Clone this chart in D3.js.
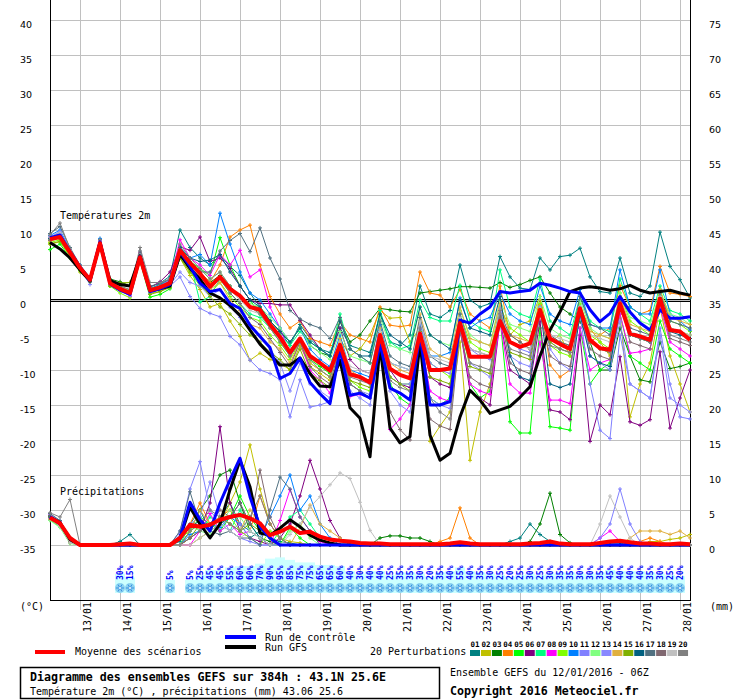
<!DOCTYPE html>
<html>
<head>
<meta charset="utf-8">
<script src="https://cdn.jsdelivr.net/npm/d3@7"></script>
<style>
  body { margin: 0; background: #fff; }
  svg { display: block; }
</style>
</head>
<body>
<div class="diagram"></div>
<script>
// time steps: 12/01/2016 06Z + 0..384h every 6h
const stepHours = d3.range(0, 385, 6);
const dayHours = d3.range(18, 385, 24);
const dayLabels = ["13/01","14/01","15/01","16/01","17/01","18/01","19/01","20/01",
                   "21/01","22/01","23/01","24/01","25/01","26/01","27/01","28/01"];
const tempTicks = [40,35,30,25,20,15,10,5,0,-5,-10,-15,-20,-25,-30,-35];
const precipTicks = [75,70,65,60,55,50,45,40,35,30,25,20,15,10,5,0];
const memberNames = ["01","02","03","04","05","06","07","08","09","10",
                     "11","12","13","14","15","16","17","18","19","20"];
const memberColors = ["#008080","#c0c000","#008000","#ff8000","#00ff00","#800080","#00ff80","#ff00ff","#80ff00","#0080ff",
                      "#8080ff","#80ff80","#8888ff","#e0b040","#80b000","#006080","#507080","#806870","#c0c0c0","#808080"];

// snow probability (%) per step, null = none
const snowPct = [null,null,null,null,null,null,null,30,15,null,null,null,5,
  null,5,25,45,45,55,60,60,70,90,95,85,
  75,75,65,65,60,40,30,40,40,25,35,35,
  30,20,35,40,55,40,35,30,25,20,25,30,
  25,30,35,35,30,30,35,45,40,40,40,35,
  30,25,20,null];

// 2m temperature (°C)
const meanT = [8.7,9.0,6.8,4.6,2.9,8.1,2.4,1.6,1.0,6.1,1.4,1.8,2.4,
  7.1,5.3,3.8,1.9,3.3,1.6,0.6,-1.0,-1.4,-3.5,-5.3,-7.5,
  -5.5,-8.0,-9.0,-10.1,-6.4,-10.6,-11.0,-11.8,-5.0,-9.8,-10.7,-11.2,
  -4.8,-10.0,-10.0,-9.8,-3.3,-8.1,-8.1,-8.1,-3.0,-6.0,-6.7,-6.2,
  -1.4,-5.5,-6.3,-7.0,-1.2,-5.7,-6.9,-7.1,-0.5,-4.8,-5.2,-5.7,
  0.2,-4.3,-4.5,-5.7];
const ctrlT = [8.9,9.3,6.9,4.7,2.8,8.3,2.3,1.4,0.8,6.2,1.2,1.6,2.2,
  6.9,4.8,2.4,1.2,1.5,-0.5,-1.2,-3.6,-5.2,-6.8,-11.2,-10.5,
  -8.3,-11.8,-13.4,-14.8,-7.1,-13.6,-13.3,-14.0,-6.2,-12.6,-13.3,-14.3,
  -5.0,-15.0,-15.0,-14.5,-2.9,-3.3,-2.0,-1.0,1.2,1.0,1.2,1.4,
  2.4,2.1,1.7,1.2,1.0,-1.4,-3.1,-1.9,0.5,-1.7,-3.3,-4.3,
  -1.4,-2.6,-2.6,-2.4];
const gfsT = [8.2,7.3,6.0,4.3,2.7,8.2,2.8,2.2,2.0,6.3,1.3,1.6,2.0,
  6.5,4.5,3.0,1.0,0.3,-0.8,-2.2,-4.3,-6.3,-7.8,-9.3,-9.3,
  -8.3,-10.5,-12.3,-12.4,-8.6,-15.4,-16.9,-22.4,-6.5,-18.3,-20.4,-19.5,
  -6.0,-19.3,-22.9,-21.9,-16.7,-12.9,-14.3,-16.2,-15.7,-15.2,-13.9,-12.4,
  -8.0,-4.3,-1.7,1.2,1.7,1.9,1.7,1.4,1.6,2.1,1.4,1.0,
  1.2,1.4,1.0,0.7];

const p01T = [9.0,9.6,7.2,4.9,3.0,8.6,2.6,1.9,1.3,6.6,1.9,2.4,3.4,
  10.0,7.5,6.0,5.0,6.4,4.8,3.5,1.0,-1.0,-3.0,-4.5,-6.5,
  -3.5,-5.5,-7.0,-7.5,-4.0,-6.5,-7.0,-7.5,-2.0,-6.0,-6.5,-5.0,
  2.0,-2.0,-2.5,-1.5,5.0,0.0,-1.0,-0.5,6.2,3.3,1.7,1.5,
  6.0,4.3,6.2,6.4,7.4,3.3,1.2,1.0,6.0,1.0,0.5,2.0,
  9.7,4.8,2.9,0.3];
const p02T = [8.0,8.3,6.2,4.0,2.6,7.8,2.8,2.4,2.5,5.8,1.0,1.2,2.0,
  6.0,3.5,1.5,-1.0,-0.5,-3.0,-5.2,-8.6,-7.6,-8.5,-9.0,-10.0,
  -6.5,-9.5,-10.5,-11.5,-5.5,-8.0,-7.0,-5.0,-1.5,-2.6,-2.5,-6.0,
  -4.0,-20.2,-18.0,-16.0,-6.0,-22.9,-16.0,-12.0,-3.0,-5.0,-3.5,-3.0,
  0.5,-6.0,-5.0,-8.0,-1.0,-4.0,-6.0,-8.0,-2.0,-16.7,-12.0,-9.0,
  -1.0,-8.0,-12.0,-16.0];
const p03T = [8.5,8.9,6.7,4.5,2.9,8.0,3.0,2.6,2.0,6.0,1.6,2.2,2.6,
  7.5,5.5,4.0,2.5,3.5,2.0,0.5,-1.0,-1.0,-3.0,-4.5,-6.0,
  -4.0,-6.5,-7.5,-8.0,-3.0,-6.0,-5.0,-3.0,-1.2,-1.4,-1.6,-1.7,
  1.0,1.2,1.4,1.6,1.9,1.9,1.8,1.7,2.5,1.8,2.2,2.8,
  3.3,1.0,-1.0,-2.0,-3.1,-6.0,-10.0,-10.0,-4.0,-8.0,-11.4,-11.7,
  -6.0,-9.8,-9.5,-9.0];
const p04T = [8.8,9.2,7.0,4.7,3.0,8.4,2.7,1.8,1.4,6.4,1.5,2.0,2.8,
  7.0,5.0,4.0,2.5,5.0,9.0,10.0,10.7,5.0,0.5,-2.0,-4.0,
  -3.0,-5.5,-6.0,-6.5,-3.1,-5.0,-5.5,-6.0,-1.0,-3.6,-3.8,-3.6,
  4.0,1.0,0.7,-1.0,1.5,-2.0,-3.0,-4.0,2.0,-5.0,-6.0,-7.0,
  0.5,-9.3,-11.0,-10.0,-2.0,-6.0,-5.0,-4.0,2.1,-1.0,-2.0,-1.5,
  4.8,1.0,0.8,0.5];
const p05T = [7.2,8.0,6.0,4.2,2.8,7.8,2.0,1.4,0.8,5.5,0.4,0.8,1.6,
  6.5,5.5,4.5,3.5,8.9,5.0,2.0,0.0,-2.0,-4.0,-6.0,-8.0,
  -6.0,-8.5,-9.5,-10.5,-7.0,-12.0,-13.0,-14.0,-6.0,-12.0,-14.0,-15.0,
  -5.0,-14.0,-15.0,-14.0,-3.5,-12.0,-14.0,-13.0,-2.5,-17.4,-19.0,-19.0,
  -4.0,-18.1,-18.3,-18.6,-4.0,-12.0,-10.0,-9.0,-2.0,-8.0,-9.0,-10.0,
  -3.0,-7.0,-8.0,-9.0];
const p06T = [8.5,9.2,7.0,4.8,3.0,8.3,2.6,1.8,1.2,6.4,1.8,2.6,4.0,
  7.6,7.1,9.0,5.5,6.0,4.5,2.0,0.0,-0.5,-0.5,-0.7,-0.7,
  -2.9,-5.0,-7.0,-8.0,-4.0,-8.5,-10.0,-10.5,-5.5,-10.0,-12.0,-12.5,
  -4.0,-11.0,-12.0,-12.5,-4.0,-13.0,-14.0,-15.0,-3.0,-10.0,-11.0,-12.0,
  -3.0,-15.7,-16.0,-17.1,-5.0,-20.2,-15.0,-16.4,-8.1,-17.4,-17.9,-17.1,
  -7.4,-18.3,-14.0,-10.0];
const p07T = [8.9,9.4,7.1,4.8,3.1,8.3,2.5,1.8,1.3,6.4,1.7,2.1,2.8,
  6.5,5.5,-0.3,0.5,3.0,1.0,-0.5,-2.0,-2.5,-4.0,-5.0,-6.5,
  -4.5,-6.0,-7.0,-8.0,-2.0,-7.0,-8.0,-9.0,-1.5,-6.0,-7.0,-6.5,
  0.0,-2.5,-3.0,-3.0,2.1,-3.0,-4.0,-4.5,4.3,-1.0,-2.0,-2.5,
  3.0,-3.0,-4.0,-5.0,0.5,-3.0,-4.0,-4.5,3.0,-1.0,-2.0,-3.0,
  2.0,-1.5,-2.0,-3.0];
const p08T = [9.0,9.5,7.0,4.5,2.5,8.5,2.2,1.5,0.5,6.8,1.5,2.0,2.8,
  8.6,6.0,5.0,3.5,6.5,5.0,7.1,3.3,4.3,-1.0,-4.0,-8.0,
  -6.0,-10.0,-11.5,-13.3,-7.0,-13.8,-13.5,-14.0,-6.0,-18.5,-17.0,-15.0,
  -5.0,-13.0,-14.0,-14.5,-4.0,-12.0,-13.0,-13.5,-3.0,-12.0,-13.3,-13.3,
  -6.0,-14.3,-14.3,-14.8,-4.0,-10.0,-9.0,-8.5,-2.0,-7.6,-7.4,-7.0,
  -1.0,-6.0,-7.0,-8.0];
const p09T = [8.2,8.6,6.5,4.4,2.7,7.6,2.0,1.0,0.3,5.5,1.0,1.5,2.2,
  6.0,4.0,2.0,1.0,2.5,0.5,-1.0,-2.5,-3.0,-5.0,-6.5,-8.5,
  -6.0,-9.0,-10.0,-11.0,-6.0,-11.5,-12.5,-13.0,-5.0,-11.0,-12.0,-12.0,
  -3.0,-9.0,-10.0,-11.0,-2.0,-6.0,-7.0,-7.5,-1.0,-4.0,-5.0,-6.0,
  -0.5,-6.5,-7.5,-8.0,-0.5,-5.0,-6.0,-7.0,1.0,-3.0,-4.0,-5.0,
  1.5,-3.0,-3.5,-4.5];
const p10T = [9.2,10.0,7.2,5.0,3.2,8.8,2.8,1.8,1.0,6.5,1.6,2.2,3.0,
  7.5,6.0,6.5,5.0,12.4,8.0,4.0,1.0,0.0,-2.0,-4.0,-6.0,
  -4.0,-7.0,-8.5,-9.5,-5.0,-10.0,-10.5,-11.0,-3.5,-9.0,-9.5,-10.0,
  -3.5,-8.0,-8.0,-7.5,0.3,-4.0,-3.0,-2.5,1.0,-2.0,-3.0,-3.5,
  2.0,-2.0,-3.0,-3.5,1.5,-3.5,-4.0,-4.0,4.3,-1.0,-2.0,-2.0,
  4.3,-2.0,-3.0,-4.3];
const p11T = [8.8,9.5,7.0,4.5,2.2,8.0,2.5,1.5,0.8,5.8,1.0,1.5,2.0,
  3.3,0.5,-1.2,-1.9,-2.4,-5.2,-6.4,-8.6,-10.0,-10.5,-11.4,-16.7,
  -11.4,-15.3,-15.0,-14.5,-8.0,-12.0,-13.0,-13.5,-5.0,-11.0,-12.0,-12.0,
  -3.0,-9.0,-10.0,-10.5,-2.0,-7.0,-8.0,-8.5,-1.0,-6.0,-7.0,-7.5,
  -1.0,-7.0,-9.0,-10.0,-2.0,-12.0,-18.6,-19.8,-5.0,-12.0,-13.0,-14.0,
  -4.0,-12.0,-16.7,-17.0];
const p12T = [8.6,9.0,6.8,4.6,3.0,7.9,2.3,1.7,1.2,6.0,1.2,1.7,2.5,
  7.0,5.0,4.5,3.0,4.0,2.0,0.5,-0.5,-1.0,-2.5,-4.0,-6.0,
  -4.0,-6.5,-7.5,-8.5,-4.5,-8.0,-8.5,-9.0,-2.5,-6.5,-7.0,-7.5,
  -1.0,-5.0,-6.0,-6.5,-1.5,-5.0,-6.0,-6.5,0.0,-3.5,-4.0,-4.5,
  0.5,-4.0,-5.0,-5.5,0.0,-4.0,-5.0,-5.5,1.0,-2.5,-3.0,-3.5,
  1.0,-2.0,-2.5,-3.5];
const p13T = [9.0,9.8,7.2,4.6,2.5,8.4,2.4,1.4,0.6,6.2,1.2,1.6,2.2,
  4.0,2.5,2.0,0.5,1.5,-1.0,-2.5,-4.0,-5.0,-7.0,-9.0,-13.0,
  -9.0,-12.0,-13.0,-14.0,-7.0,-13.0,-14.0,-15.0,-7.0,-13.0,-15.0,-16.0,
  -6.0,-14.0,-15.0,-15.5,-4.0,-9.0,-10.0,-11.0,-1.5,-8.0,-9.0,-9.5,
  -1.0,-6.0,-7.0,-7.5,-1.0,-8.0,-9.0,-10.0,-3.0,-12.0,-13.0,-14.0,
  -5.0,-14.0,-15.0,-16.0];
const p14T = [8.4,8.8,6.6,4.4,2.8,7.9,2.6,1.9,1.4,6.2,1.6,2.0,2.6,
  6.8,5.0,3.5,1.5,2.5,0.0,-1.5,-3.5,-4.0,-6.0,-7.0,-9.0,
  -6.0,-9.0,-10.0,-11.0,-5.5,-10.0,-11.0,-11.5,-4.0,-9.0,-10.0,-10.5,
  -2.0,-7.0,-8.0,-8.5,-1.0,-5.5,-6.0,-6.5,-0.5,-5.0,-5.5,-6.0,
  -1.5,-5.5,-6.0,-6.5,-1.5,-4.5,-5.0,-5.5,0.5,-3.5,-4.0,-4.5,
  1.5,-2.5,-3.0,-3.5];
const p15T = [8.0,8.4,6.4,4.3,2.6,7.5,2.0,2.4,2.5,5.8,0.8,1.2,1.8,
  6.0,4.0,2.5,0.5,-1.0,-2.0,-3.5,-5.0,-6.0,-7.5,-8.5,-10.0,
  -7.0,-10.5,-11.5,-12.5,-7.0,-11.5,-12.0,-12.5,-5.5,-11.0,-12.0,-13.0,
  -4.5,-11.0,-11.5,-12.0,-3.5,-9.5,-10.0,-10.5,-2.5,-7.5,-8.0,-8.5,
  -2.0,-6.0,-7.0,-7.5,-1.5,-6.0,-7.0,-7.5,-0.5,-5.0,-5.5,-6.0,
  0.5,-4.0,-4.5,-5.0];
const p16T = [8.8,9.2,6.9,4.7,3.1,8.2,2.5,1.6,1.0,6.1,1.5,1.9,2.7,
  7.5,6.0,5.5,5.7,6.5,4.0,2.0,0.0,-1.0,-3.0,-4.5,-6.0,
  -4.0,-6.0,-7.0,-8.0,-3.0,-7.0,-8.0,-8.0,-2.0,-5.0,-6.0,-7.0,
  -1.0,-5.0,-6.0,-7.0,0.0,-4.0,-4.5,-5.0,0.5,-8.0,-11.0,-11.5,
  -1.0,-12.0,-12.5,-12.0,-2.0,-8.0,-9.0,-9.5,-1.0,-5.0,-5.5,-6.0,
  0.0,-4.5,-5.0,-5.5];
const p17T = [9.5,10.5,7.5,5.0,3.0,8.6,2.5,1.6,1.0,7.0,2.0,2.3,3.0,
  7.0,5.0,4.0,4.0,7.0,8.5,9.5,6.9,10.3,6.0,3.0,-1.5,
  -2.7,-3.5,-4.0,-5.5,-2.5,-7.0,-8.0,-9.0,-3.0,-8.0,-9.0,-9.5,
  -2.5,-8.0,-9.0,-9.5,-2.0,-7.0,-7.5,-8.0,-2.0,-5.0,-6.0,-7.0,
  -1.5,-5.0,-6.0,-6.5,0.5,-3.5,-4.0,-5.0,0.0,-4.0,-4.5,-5.0,
  1.0,-3.0,-3.5,-4.0];
const p18T = [8.6,9.3,7.0,4.8,3.0,8.2,2.6,1.8,1.2,6.3,1.4,1.8,2.5,
  7.2,5.5,3.5,2.0,3.0,1.0,-0.5,-2.5,-3.5,-5.5,-7.5,-9.5,
  -6.0,-9.5,-11.0,-12.0,-6.5,-12.0,-13.0,-14.0,-6.5,-16.0,-18.5,-20.0,
  -5.0,-17.0,-18.0,-18.5,-4.5,-11.0,-12.0,-12.5,-2.0,-9.0,-10.0,-10.5,
  -2.0,-8.0,-9.0,-9.5,-1.5,-7.0,-8.0,-8.5,0.0,-6.0,-6.5,-7.0,
  -0.5,-5.5,-6.0,-6.5];
const p19T = [9.0,9.6,7.1,4.8,3.0,8.4,2.3,1.5,0.9,6.4,1.3,1.7,2.3,
  7.0,5.0,3.5,1.8,3.0,1.5,0.0,-1.5,-2.0,-4.0,-5.5,-7.5,
  -5.5,-8.0,-9.0,-10.0,-6.0,-9.5,-10.0,-10.5,-4.5,-9.0,-9.5,-10.0,
  -3.0,-8.0,-8.5,-9.0,-2.5,-7.0,-7.5,-8.0,-1.5,-6.0,-6.5,-7.0,
  -1.0,-5.0,-5.5,-6.0,-1.0,-5.0,-5.5,-6.0,-0.5,-4.5,-5.0,-5.5,
  0.5,-4.0,-4.5,-5.0];
const p20T = [9.3,11.0,7.3,4.9,3.1,8.6,2.8,2.0,1.5,7.5,2.5,2.5,3.0,
  8.0,6.0,4.5,3.0,4.0,2.0,0.5,-1.0,-2.0,-4.0,-6.0,-8.0,
  -6.0,-8.5,-10.0,-11.0,-6.5,-11.0,-11.5,-12.0,-5.5,-11.5,-12.5,-13.0,
  -4.0,-14.0,-16.0,-17.0,-3.5,-9.0,-9.5,-10.0,-1.5,-7.0,-7.5,-8.0,
  -1.5,-6.5,-7.0,-7.5,-1.5,-6.0,-7.0,-7.5,-1.0,-5.0,-5.5,-6.0,
  0.0,-5.0,-5.5,-6.0];

// precipitation (mm per 6h)
const meanP = [3.9,3.1,1.0,0,0,0,0,0.1,0.2,0,0,0,0,
  1.0,2.9,2.6,2.9,3.6,4.0,4.3,3.8,3.1,1.4,1.9,2.6,
  1.7,1.9,1.2,0.8,0.6,0.5,0.3,0.2,0.2,0.1,0.1,0.1,
  0.1,0.1,0.1,0.2,0.4,0.2,0.1,0.1,0.1,0.1,0.1,0.2,
  0.3,0.5,0.2,0.1,0.1,0.1,0.3,0.5,0.6,0.4,0.2,0.2,
  0.1,0.1,0.2,0.1];
const ctrlP = [4.0,3.0,1.0,0,0,0,0,0,0,0,0,0,0,
  1.0,6.1,3.6,2.0,6.0,9.3,12.4,6.9,2.6,1.0,0,0,
  0,0,0,0,0,0,0,0,0,0,0,0,
  0,0,0,0,0,0,0,0,0,0,0,0,
  0,0,0,0,0,0,0,0,0,0,0,0,
  0,0,0,0];
const gfsP = [4.0,3.2,0.8,0,0,0,0,0,0,0,0,0,0,
  1.0,5.4,3.0,1.0,3.0,7.9,12.1,8.3,1.7,1.4,2.4,3.6,
  2.6,1.4,0.7,0.3,0,0,0,0,0,0,0,0,
  0,0,0,0,0,0,0,0,0,0,0,0,
  0,0,0,0,0,0,0,0,0,0,0,0,
  0,0,0,0];

const p01P = [4.0,3.0,0.5,0,0,0,0,0.5,1.5,0,0,0,0,
  0.5,3.0,5.0,2.0,4.0,6.0,3.0,1.0,2.0,1.0,0.5,0.3,
  0,0,0,0,0,0,0,0,0,0,0,0,
  0,0,0,0,0,0,0,0,0,0.5,1.0,3.0,
  1.5,0.5,0,0,0,0,0,0,0,0,0,0,
  0,0,0,0];
const p02P = [3.8,2.8,0.4,0,0,0,0,0,0,0,0,0,0,
  0,0,1.0,2.0,3.0,6.0,9.0,14.3,8.0,3.0,1.0,0.5,
  0.3,0,0,0,0,0,0,0,0,0,0,0,
  0,0,0,0,0,0,0,0,0,0,0,0,
  0,0,0,0,0,0,0,0,0,0,0,0.5,
  0.5,0.8,1.0,1.5];
const p03P = [4.2,3.2,0.6,0,0,0,0,0,0,0,0,0,0,
  0,2.0,5.0,7.0,10.0,10.7,6.0,2.0,1.0,0.5,0,0,
  0,0,0,0,0,0,0,0,1.0,1.3,1.3,1.0,
  1.0,0.5,0,0,0,0,0,0,0,0,0,0.5,
  3.0,7.4,1.5,0.3,0,0,0,0,0,0,0,0,
  0,0,0,0];
const p04P = [4.0,3.0,0.5,0,0,0,0,0,0,0,0,0,0,
  1.0,3.0,6.0,3.0,4.0,5.0,3.0,2.0,7.0,3.0,1.0,0,
  0,0,0,0,0,0,0,0,0,0,0,0,
  0,0,0.5,1.0,5.3,1.0,0,0,0,0,0,0,
  0,0,0,0,0,0,0,0,0,0,0.5,1.0,
  0.5,0,0,0];
const p05P = [3.6,2.6,0.3,0,0,0,0,0,0,0,0,0,0,
  0,2.0,4.0,3.0,2.0,4.0,7.0,4.0,2.0,1.0,0,2.5,
  1.0,0,0,0,0,0,0,0,0,0,0,0,
  0,0,0,0,0,0,0,0,0,0,0,0,
  0,0,0,0,0,0,0,0,0,0,0,0,
  0,0,0,0];
const p06P = [4.1,3.1,0.6,0,0,0,0,0,0,0,0,0,0,
  0,1.0,2.0,6.0,16.9,6.0,2.0,1.0,0.5,0,1.0,3.0,
  7.0,12.1,8.0,3.5,1.0,0,0,0,0,0,0,0,
  0,0,0,0,0,0,0,0,0,0,0,0,
  0,0,0,0,0,0,0,0,0,0,0,0,
  0,0,0,0];
const p07P = [3.9,2.9,0.4,0,0,0,0,0,0,0,0,0,0,
  0,3.0,2.0,4.0,3.0,2.0,5.0,3.0,1.0,0,2.0,4.0,
  5.0,3.0,1.0,0,0,0,0,0,0,0,0,0,
  0,0,0,0,0,0,0,0,0,0,0,0,
  0,0,0,0,0,0,0,0,0,0,0,0,
  0,0,0,0];
const p08P = [4.3,3.3,0.5,0,0,0,0,0,0,0,0,0,0,
  0,0,2.0,4.5,2.0,3.0,1.5,2.0,1.0,0,3.5,7.9,
  4.0,2.0,0.5,0,0,0,0,0,0,0,0,0,
  0,0,0,0,0,0,0,0,0,0,0,0,
  0,0,0,0,0,0,1.0,2.0,0.5,0,0,0,
  0,0,0,0];
const p09P = [3.7,2.7,0.3,0,0,0,0,0,0,0,0,0,0,
  1.0,2.0,3.0,2.0,3.0,4.0,2.0,1.0,0,2.0,1.0,0,
  0,0,0,0,0,0,0,0,0,0,0,0,
  0,0,0,0,0,0,0,0,0,0,0,0,
  0,0,0,0,0,0,0,0,0,0,0,0,
  0,0,0,0];
const p10P = [4.0,3.0,0.5,0,0,0,0,0,0,0,0,0,0,
  0,1.5,2.0,3.0,2.5,4.0,3.0,2.0,1.0,4.0,7.0,10.0,
  5.0,7.0,3.0,1.0,0,0,0,0,0,0,0,0,
  0,0,0,0,0,0,0,0,0,0,0,0,
  0,0,0,0,0,0,0,0,0,0,0,0,
  0,0,0,0];
const p11P = [4.4,3.4,0.7,0,0,0,0,0,0,0,0,0,0,
  2.0,8.0,11.9,5.0,3.0,2.0,1.0,0.5,0,0,0,0,
  0,0,0,0,0,0,0,0,0,0,0,0,
  0,0,0,0,0,0,0,0,0,0,0,0,
  0,0,0,0,0,0,1.0,3.0,8.0,3.0,0.5,0,
  0,0,0,0];
const p12P = [3.5,2.5,0.2,0,0,0,0,0,0,0,0,0,0,
  1.0,3.0,2.0,1.5,3.0,5.0,4.0,2.0,1.0,0,0,2.0,
  3.0,1.0,0,0,0,0,0,0,0,0,0,0,
  0,0,0,0,0,0,0,0,0,0,0,0,
  0,0,0,0,0,0,0,0,0,0,0,0,
  0,0,0,0];
const p13P = [4.0,3.0,0.5,0,0,0,0,0,0,0,0,0,0,
  1.5,3.0,4.0,9.0,4.0,2.0,3.0,1.0,0,0,0,0,
  0,0,0,0,0,0,0,0,0,0,0,0,
  0,0,0,0,0,0,0,0,0,0,0,0,
  0,0,0,0,0,0,0,0,0,0,0,0,
  0,0,0,0];
const p14P = [3.8,2.8,0.4,0,0,0,0,0,0,0,0,0,0,
  0,2.0,5.0,3.0,4.0,3.0,2.0,5.0,3.0,1.0,0,0,
  2.5,5.7,3.0,2.0,1.0,0,0,0,0,0,0,0,
  0,0,0,0,0,0,0,0,0,0,0,0,
  0,0,0,0,0,0,0,0,0,1.0,2.0,2.0,
  2.0,1.5,2.0,1.0];
const p15P = [4.1,3.1,0.5,0,0,0,0,0,0,0,0,0,0,
  0,1.0,3.0,2.0,4.0,3.0,2.0,3.0,2.0,1.0,0,0,
  0,0,0,0,0,0,0,0,0,0,0,0,
  0,0,0,0,0,0,0,0,0,0,0,0,
  0,0,0,0,0,0,0,0,0,0,0,0,
  0,0,0,0];
const p16P = [4.0,3.0,0.6,0,0,0,0,0,0,0,0,0,0,
  1.0,2.5,3.5,2.0,3.0,4.0,6.0,3.0,1.0,0,0,0,
  0,0,0,0,0,0,0,0,0,0,0,0,
  0,0,0,0,0,0,0,0,0,0,0,0,
  0,0,0,0,0,0,0,0,0,0,0,0,
  0,0,0,0];
const p17P = [4.5,3.5,0.8,0,0,0,0,0,0,0,0,0,0,
  2.0,7.6,3.0,2.0,1.5,2.0,1.0,1.0,0,5.0,9.7,8.0,
  4.0,2.0,0,0,0,0,0,0,0,0,0,0,
  0,0,0,0,0,0,0,0,0,0,0,0,
  0,0,0,0,0,0,0,0,0,0,0,0,
  0,0,0,0];
const p18P = [3.9,2.9,0.4,0,0,0,0,0,0,0,0,0,0,
  0,1.0,2.0,3.0,5.0,4.0,6.0,3.0,10.7,4.0,1.0,0,
  0,0,0,0,0,0,0,0,0,0,0,0,
  0,0,0,0,0,0,0,0,0,0,0,0,
  0,0,0,0,0,0,0,0,0,0,0,0,
  0,0,0,0];
const p19P = [3.7,2.7,0.3,0,0,0,0,0,0,0,0,0,0,
  0,0,1.0,2.0,3.0,2.0,1.0,2.0,1.0,0,0,1.5,
  3.0,5.4,6.9,8.6,10.3,9.5,6.1,2.1,0,0,0,0,
  0,0,0,0,0,0,0,0,0,0,0,0,
  0,0,0,0,0,0,3.0,7.0,4.0,1.0,0,0,
  0,0,0,0];
const p20P = [4.6,4.0,6.5,0,0,0,0,0,0,0,0,0,0,
  0,2.0,3.0,5.0,4.0,3.0,2.0,4.0,7.0,3.0,1.0,0,
  0,0,0,0,0,0,0,0,0,0,0,0,
  0,0,0,0,0,0,0,0,0,0,0,0,
  0,0,0,0,0,0,0,0,0,0,0,0,
  0,0,0,0];

const pertT = [p01T,p02T,p03T,p04T,p05T,p06T,p07T,p08T,p09T,p10T,p11T,p12T,p13T,p14T,p15T,p16T,p17T,p18T,p19T,p20T];
const pertP = [p01P,p02P,p03P,p04P,p05P,p06P,p07P,p08P,p09P,p10P,p11P,p12P,p13P,p14P,p15P,p16P,p17P,p18P,p19P,p20P];

const GEFS = {
  w: 740,
  h: 700,
  left: 50,
  right: 690,
  bottom: 600,
  mono: "'DejaVu Sans Mono', monospace",
  sans: "'DejaVu Sans', sans-serif",
  draw: () => {
    const svg = d3.select(".diagram").append("svg")
      .attr("width", GEFS.w).attr("height", GEFS.h)
      .style("background", "#fff");

    const x = d3.scaleLinear().domain([0, 384]).range([GEFS.left, GEFS.right]);
    const yT = d3.scaleLinear().domain([-35, 40]).range([545, 20]);
    const yP = d3.scaleLinear().domain([0, 75]).range([545, 20]);
    const ySnow = d3.scaleLinear().domain([0, 100]).range([581.3, 556.1]);

    // horizontal grid + left labels
    const gl = svg.append("g").attr("transform", `translate(${GEFS.left},0)`)
      .call(d3.axisLeft(yT).tickValues(tempTicks).tickSize(-(GEFS.right - GEFS.left)).tickFormat(d => String(d)));
    gl.select(".domain").remove();
    gl.attr("font-family", GEFS.sans).attr("font-size", 9.5);
    gl.selectAll(".tick line").attr("stroke", "#c0c0c0");
    gl.selectAll(".tick text").attr("x", -30).attr("dy", null).attr("y", 7)
      .attr("text-anchor", "start").attr("fill", "#000");

    // right labels (mm)
    const gr = svg.append("g").attr("transform", `translate(${GEFS.right},0)`)
      .call(d3.axisRight(yP).tickValues(precipTicks).tickSize(0).tickPadding(19).tickFormat(d => String(d)));
    gr.select(".domain").remove();
    gr.attr("font-family", GEFS.sans).attr("font-size", 9.5);
    gr.selectAll(".tick text").attr("dy", null).attr("y", 7).attr("fill", "#000");

    // vertical grid + dates
    const gb = svg.append("g").attr("transform", `translate(0,${GEFS.bottom})`)
      .call(d3.axisBottom(x).tickValues(dayHours).tickFormat((d, i) => dayLabels[i]));
    gb.select(".domain").remove();
    gb.attr("font-family", GEFS.mono).attr("font-size", 10);
    gb.selectAll(".tick line").attr("stroke", "#c0c0c0").attr("y1", -GEFS.bottom).attr("y2", 10);
    gb.selectAll(".tick text").attr("transform", "rotate(-90)")
      .attr("x", -32).attr("y", 10.5).attr("dy", null)
      .attr("text-anchor", "start").attr("fill", "#000");

    // snow probability bars, flakes and labels
    const snow = stepHours.map((h, i) => ({h: h, p: snowPct[i]})).filter(d => d.p !== null);
    svg.append("g").selectAll("rect").data(snow).enter().append("rect")
      .attr("x", d => x(d.h) - 5).attr("width", 10)
      .attr("y", d => ySnow(d.p)).attr("height", d => 593 - ySnow(d.p))
      .attr("fill", "#ccffff");
    const flakes = svg.append("g").selectAll("g").data(snow).enter().append("g")
      .attr("transform", d => `translate(${x(d.h)},588)`);
    flakes.append("circle").attr("r", 5).attr("fill", "#8cd3f2");
    flakes.append("path").attr("d", "M-4,0H4M-2,-3.5L2,3.5M2,-3.5L-2,3.5")
      .attr("stroke", "#3a8fe0").attr("stroke-width", 1).attr("fill", "none");
    flakes.append("circle").attr("r", 1).attr("fill", "#fff");
    svg.append("g").selectAll("text").data(snow).enter().append("text")
      .attr("transform", d => `translate(${x(d.h) + 2.8},580) rotate(-90)`)
      .attr("font-family", GEFS.mono).attr("font-size", 8).attr("font-weight", "bold")
      .attr("fill", "#0000ff")
      .text(d => d.p + "%");

    // frame and double zero line
    const frame = svg.append("g").attr("stroke", "#000").attr("shape-rendering", "crispEdges");
    frame.append("line").attr("x1", GEFS.left + 0.5).attr("x2", GEFS.left + 0.5).attr("y1", 0).attr("y2", GEFS.bottom + 1);
    frame.append("line").attr("x1", GEFS.right + 0.5).attr("x2", GEFS.right + 0.5).attr("y1", 0).attr("y2", GEFS.bottom + 1);
    frame.append("line").attr("x1", GEFS.left).attr("x2", GEFS.right + 1).attr("y1", GEFS.bottom + 0.5).attr("y2", GEFS.bottom + 0.5);
    frame.append("line").attr("x1", GEFS.left).attr("x2", GEFS.right).attr("y1", yT(0) - 0.5).attr("y2", yT(0) - 0.5);
    frame.append("line").attr("x1", GEFS.left).attr("x2", GEFS.right).attr("y1", yT(0) + 1.5).attr("y2", yT(0) + 1.5);

    const lineT = d3.line().x((d, i) => x(stepHours[i])).y(d => yT(d));
    const lineP = d3.line().x((d, i) => x(stepHours[i])).y(d => yP(d));
    const crosses = (vals, ys) => vals.map((d, i) => {
      const px = x(stepHours[i]), py = ys(d);
      return `M${px - 2},${py}h4M${px},${py - 2}v4`;
    }).join("");

    const pg = svg.append("g").attr("fill", "none");
    pertT.forEach((vals, k) => {
      const c = memberColors[k];
      pg.append("path").attr("d", lineP(pertP[k])).attr("stroke", c).attr("stroke-width", 1);
      pg.append("path").attr("d", crosses(pertP[k], yP)).attr("stroke", c).attr("stroke-width", 1);
      pg.append("path").attr("d", lineT(vals)).attr("stroke", c).attr("stroke-width", 1);
      pg.append("path").attr("d", crosses(vals, yT)).attr("stroke", c).attr("stroke-width", 1);
    });

    const main = svg.append("g").attr("fill", "none").attr("stroke-linejoin", "round");
    main.append("path").attr("d", lineP(gfsP)).attr("stroke", "#000").attr("stroke-width", 3);
    main.append("path").attr("d", lineT(gfsT)).attr("stroke", "#000").attr("stroke-width", 3);
    main.append("path").attr("d", lineP(ctrlP)).attr("stroke", "#0000ff").attr("stroke-width", 3);
    main.append("path").attr("d", lineT(ctrlT)).attr("stroke", "#0000ff").attr("stroke-width", 3);
    main.append("path").attr("d", lineP(meanP)).attr("stroke", "#ff0000").attr("stroke-width", 4);
    main.append("path").attr("d", lineT(meanT)).attr("stroke", "#ff0000").attr("stroke-width", 4);

    // texts
    const txt = (t, tx, ty, opt = {}) => svg.append("text")
      .attr("x", tx).attr("y", ty)
      .attr("font-family", GEFS.mono)
      .attr("font-size", opt.size || 10)
      .attr("font-weight", opt.bold ? "bold" : "normal")
      .attr("fill", "#000").text(t);

    txt("Températures 2m", 60, 219);
    txt("Précipitations", 60, 495);
    txt("(°C)", 20, 610);
    txt("(mm)", 710, 610);

    // legend
    const lg = svg.append("g").attr("stroke-width", 4);
    lg.append("line").attr("x1", 35).attr("x2", 65).attr("y1", 652).attr("y2", 652).attr("stroke", "#ff0000");
    lg.append("line").attr("x1", 225).attr("x2", 256).attr("y1", 637).attr("y2", 637).attr("stroke", "#0000ff");
    lg.append("line").attr("x1", 225).attr("x2", 256).attr("y1", 647).attr("y2", 647).attr("stroke", "#000");
    txt("Moyenne des scénarios", 75, 655);
    txt("Run de contrôle", 265, 641);
    txt("Run GFS", 265, 651);
    txt("20 Perturbations", 370, 655);

    const sw = svg.append("g").selectAll("g").data(memberNames).enter().append("g")
      .attr("transform", (d, i) => `translate(${470 + i * 10.95},0)`);
    sw.append("rect").attr("x", 0).attr("y", 650).attr("width", 10).attr("height", 6)
      .attr("fill", (d, i) => memberColors[i]);
    sw.append("text").attr("x", 5).attr("y", 647).attr("text-anchor", "middle")
      .attr("font-family", GEFS.mono).attr("font-size", 7.5).attr("font-weight", "bold")
      .attr("fill", "#000").text(d => d);

    // footer
    svg.append("rect").attr("x", 20.5).attr("y", 667.5).attr("width", 419).attr("height", 31)
      .attr("fill", "none").attr("stroke", "#000").attr("stroke-width", 1.5);
    txt("Diagramme des ensembles GEFS sur 384h : 43.1N 25.6E", 30, 681, {bold: true, size: 11.6});
    txt("Température 2m (°C) , précipitations (mm) 43.06 25.6", 30, 695);
    txt("Ensemble GEFS du 12/01/2016 - 06Z", 450, 676);
    txt("Copyright 2016 Meteociel.fr", 450, 695, {bold: true, size: 11.6});
  }
};

document.addEventListener('DOMContentLoaded', () => {
  GEFS.draw();
});
</script>
</body>
</html>
